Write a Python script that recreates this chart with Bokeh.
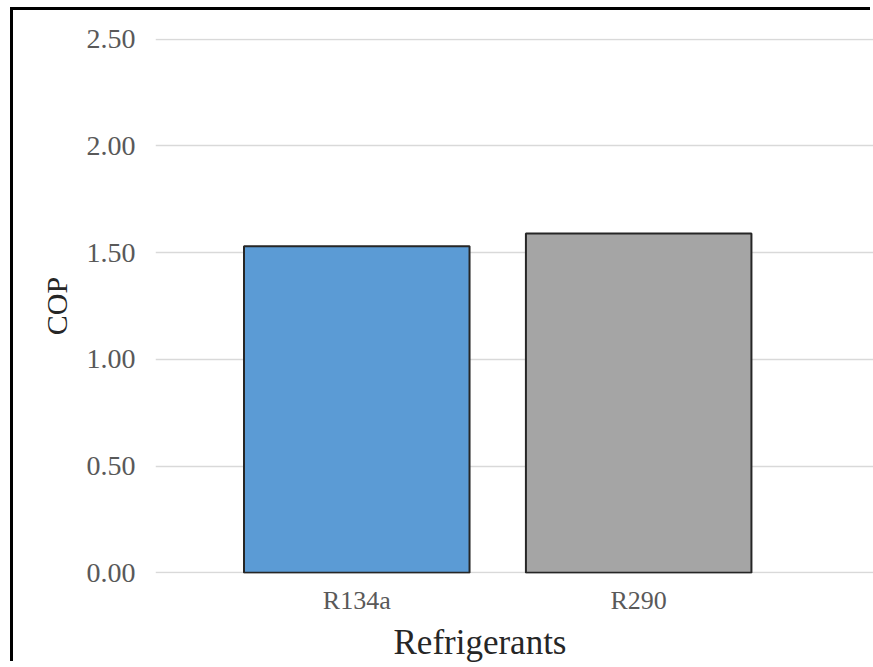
from bokeh.plotting import figure
from bokeh.models import Range1d, FixedTicker, NumeralTickFormatter, Title, ColumnDataSource
from bokeh.embed import file_html
from bokeh.resources import INLINE

# Data
categories = ["R134a", "R290"]
cop_values = [1.53, 1.59]
bar_colors = ["#5B9BD5", "#A5A5A5"]
y_ticks = [0.0, 0.5, 1.0, 1.5, 2.0, 2.5]

positions = list(range(1, len(categories) + 1))
source = ColumnDataSource(dict(x=positions, top=cop_values, color=bar_colors))

p = figure(width=860, height=654, output_backend="svg", toolbar_location=None,
           x_range=Range1d(0.286, 2.833), y_range=Range1d(-0.003, 2.503),
           min_border_left=142, min_border_right=0, min_border_top=28, min_border_bottom=90)

p.vbar(x="x", top="top", width=0.80, bottom=0, source=source,
       fill_color="color", line_color="#262626", line_width=2)

p.outline_line_color = None
p.xgrid.grid_line_color = None
p.ygrid.grid_line_color = "#D9D9D9"
p.ygrid.grid_line_width = 1.5

p.yaxis.ticker = FixedTicker(ticks=y_ticks)
p.yaxis.formatter = NumeralTickFormatter(format="0.00")
p.xaxis.ticker = FixedTicker(ticks=positions)
p.xaxis.major_label_overrides = {pos: cat for pos, cat in zip(positions, categories)}

for ax in (p.xaxis, p.yaxis):
    ax.axis_line_color = None
    ax.major_tick_line_color = None
    ax.minor_tick_line_color = None
    ax.major_label_text_font = "Liberation Serif"
    ax.major_label_text_color = "#595959"

p.yaxis.major_label_text_font_size = "28px"
p.xaxis.major_label_text_font_size = "26px"
p.yaxis.major_label_standoff = 14
p.xaxis.major_label_standoff = 6

p.yaxis.axis_label = "COP"
p.yaxis.axis_label_text_font = "Liberation Serif"
p.yaxis.axis_label_text_font_size = "30px"
p.yaxis.axis_label_text_font_style = "normal"
p.yaxis.axis_label_text_color = "#262626"
p.yaxis.axis_label_standoff = 11

p.add_layout(Title(text="Refrigerants", align="left", offset=238,
                   text_font="Liberation Serif", text_font_size="35px",
                   text_font_style="normal", text_color="#262626", standoff=6), "below")

p.styles = {"margin-top": "10px", "margin-left": "13px",
            "box-shadow": "-3px -3px 0 0 black"}

open("out.html", "w").write(file_html(p, INLINE))
